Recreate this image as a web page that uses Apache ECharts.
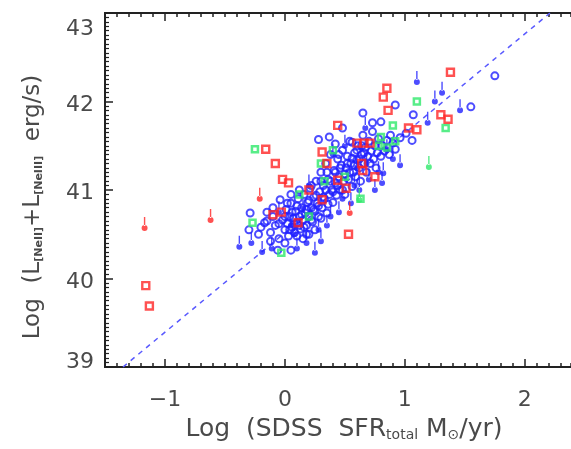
<!DOCTYPE html>
<html>
<head>
<meta charset="utf-8">
<script src="https://cdn.jsdelivr.net/npm/echarts@6/dist/echarts.min.js"></script>
<style>
html,body{margin:0;padding:0;background:#fff;overflow:hidden;}
#c{width:571px;height:449px;filter:blur(0.75px);}
</style>
</head>
<body>
<div id="c"></div>
<script>
// ---- data (x = log SFR, y = log L) ----
var xTickLabels = [-1, 0, 1, 2];
var yTickLabels = [39, 40, 41, 42, 43];
var fitX = [-1.35, 2.21];
var fitY = [39, 43];

var blueX = [-0.29,-0.2,-0.15,-0.12,-0.1,-0.08,-0.05,-0.04,-0.02,0.0,0.01,0.02,0.03,0.04,0.05,0.06,0.07,0.08,0.09,0.1,0.11,0.12,0.13,0.14,0.15,0.16,0.17,0.18,0.19,0.2,0.21,0.22,0.23,0.24,0.25,0.26,0.27,0.28,0.29,0.3,0.31,0.32,0.33,0.34,0.35,0.36,0.37,0.38,0.39,0.4,0.41,0.42,0.43,0.44,0.45,0.46,0.47,0.48,0.49,0.5,0.51,0.52,0.53,0.54,0.55,0.56,0.57,0.58,0.59,0.6,0.61,0.62,0.63,0.64,0.65,0.66,0.67,0.68,0.69,0.7,0.71,0.72,0.73,0.74,0.75,0.76,0.77,0.78,0.8,0.81,0.83,0.85,0.87,0.88,0.9,0.92,0.96,1.01,1.06,1.07,0.92,0.28,0.37,0.56,0.65,0.73,0.8,0.48,0.42,1.55,1.75,-0.17,-0.22,-0.3,-0.12,0.0,0.05,0.15,0.2,-0.06,
  -0.1,-0.05,0.0,0.02,0.04,0.06,0.08,0.1,0.12,0.14,0.16,0.18,0.2,0.22,0.24,0.26,0.28,0.3,0.32,0.34,0.36,0.38,0.4,0.42,0.44,0.46,0.48,0.5,0.52,0.54,0.56,0.58,0.6,0.62,0.64,0.66,0.1,0.18,0.25,0.05,-0.15,0.22,0.3,0.12,0.35,0.45];
var blueY = [40.74,40.58,40.65,40.52,40.7,40.6,40.45,40.89,40.66,40.55,40.78,40.62,40.48,40.7,40.85,40.58,40.68,40.52,40.76,40.63,40.9,40.7,40.56,40.8,40.66,40.95,40.74,40.6,40.86,40.7,41.02,40.8,40.64,40.92,40.76,41.1,40.85,40.7,40.98,41.2,40.8,41.05,40.9,41.3,40.74,41.12,40.95,41.4,41.0,40.86,41.22,41.08,40.94,41.35,41.15,41.0,41.28,41.45,41.1,40.95,41.25,41.38,41.12,41.55,41.3,41.04,41.2,41.42,41.15,41.34,41.5,41.25,41.1,41.4,41.62,41.3,41.48,41.2,41.38,41.55,41.3,41.44,41.66,41.35,41.5,41.25,41.42,41.58,41.38,41.5,41.44,41.56,41.4,41.62,41.53,41.46,41.59,41.64,41.56,41.85,41.96,41.57,41.6,41.54,41.87,41.76,41.77,41.7,41.52,41.94,42.29,40.63,40.5,40.55,40.42,40.4,40.32,40.45,40.5,40.32,
  40.8,40.62,40.7,40.85,40.55,40.75,40.62,40.82,40.6,40.72,40.58,40.78,40.88,40.66,40.78,40.94,40.82,40.68,40.92,41.0,40.84,41.1,40.98,41.2,41.05,41.25,41.0,41.18,41.3,41.2,41.36,41.28,41.45,41.35,41.5,41.42,40.48,40.5,40.55,40.95,40.75,41.05,41.1,41.0,41.2,41.4];

var blueLimX = [-0.38,-0.28,-0.19,-0.11,0.1,0.25,0.3,0.05,0.15,0.35,0.45,0.55,0.62,0.7,0.81,0.82,0.85,0.96,0.6,0.9,0.75,1.1,1.25,1.31,1.46,1.19,0.4,0.2,-0.05,0.5,0.67,0.08,0.18,0.28,0.38,0.48,0.58,0.68,0.78];
var blueLimY = [40.36,40.4,40.3,40.34,40.34,40.29,40.42,40.6,40.8,40.6,40.75,40.85,41.0,41.12,41.08,41.19,41.45,41.28,41.25,41.35,41.0,42.22,42.0,42.1,41.9,41.76,41.4,41.05,40.75,41.5,41.7,40.5,40.4,40.55,40.7,40.9,41.05,41.3,41.2];

var redX = [-0.16,-0.08,-0.02,0.03,0.53,1.38,0.85,0.82,0.86,1.3,1.36,1.1,1.03,0.44,0.66,0.6,0.71,0.64,0.65,0.31,0.44,0.31,-0.1,-0.03,0.11,0.51,0.35,0.2,0.75,-1.16,-1.13];
var redY = [41.46,41.3,41.12,41.08,40.5,42.33,42.15,42.05,41.9,41.85,41.8,41.68,41.7,41.73,41.53,41.53,41.53,41.3,41.22,41.43,41.11,40.89,40.72,40.75,40.63,41.02,41.3,41.0,41.15,39.92,39.69];

var redLimX = [-1.17,-0.62,-0.21,0.54];
var redLimY = [40.57,40.66,40.9,40.74];

var greenX = [-0.25,1.1,1.34,0.9,0.85,0.63,-0.03,-0.27,0.12,0.33,0.3,0.4,0.8,0.92,0.78,0.2,0.5];
var greenY = [41.46,42.0,41.7,41.73,41.48,40.9,40.29,40.63,40.95,41.1,41.3,41.45,41.6,41.55,41.5,40.7,41.15];

var greenLimX = [1.2,0.62];
var greenLimY = [41.26,40.89];

var X_MIN = -1.5, X_MAX = 2.385;

function pairs(xs, ys){ return xs.map(function(v,i){ return [v, ys[i]]; }); }

var BLUE = '#2020ff', RED = '#ff2626', GREEN = '#2ee86a';
var arrowPath = 'path://M2.3,0 L3.7,0 L3.7,9 L2.3,9 Z M0,11 A3,3 0 1,0 6,11 A3,3 0 1,0 0,11 Z';

var FONT = 'DejaVu Sans, sans-serif';
var TXT = '#4a4a4a';
var frame = {show:true, onZero:false, lineStyle:{color:'#222', width:2}};

function xAx(pos, interval, tickLen, showLabel, custom){
  var a = {
    type:'value', position:pos, min:X_MIN, max:X_MAX, interval:interval,
    axisLine: frame, splitLine:{show:false},
    axisTick:{show:true, inside:true, length:tickLen, lineStyle:{color:'#222', width:1.5}},
    axisLabel:{show:showLabel, margin:22, fontFamily:FONT, fontSize:22, color:TXT,
      formatter:function(v){ return Math.abs(v-Math.round(v))<1e-9 ? (v<0?'\u2212'+Math.abs(v):String(v)) : ''; }}
  };
  if (custom){ a.axisTick.customValues = custom; a.axisLabel.customValues = custom; }
  return a;
}

var option = {
  animation:false,
  backgroundColor:'#fff',
  grid:{left:105, top:13, right:0, bottom:82, containLabel:false, outerBoundsMode:'none'},
  xAxis:[
    Object.assign(xAx('bottom', 0.5, 8, true, xTickLabels), {
      name:'Log  (SDSS  SFR{s|total} M{s|\u2299}/yr)', nameLocation:'middle', nameGap:49,
      nameTextStyle:{fontFamily:FONT, fontSize:25, color:TXT, padding:[0,0,0,12],
        rich:{s:{fontSize:14, color:TXT, fontFamily:FONT, padding:[12,0,0,0]}}}
    }),
    xAx('bottom', 0.1, 4, false, null),
    xAx('top', 0.5, 8, false, xTickLabels),
    xAx('top', 0.1, 4, false, null)
  ],
  yAxis:[
    {type:'value', position:'left', min:39, max:43, interval:1,
     axisLine:frame, splitLine:{show:false},
     axisTick:{show:true, inside:true, length:8, lineStyle:{color:'#222', width:1.5}},
     minorTick:{show:true, splitNumber:20, length:4, lineStyle:{color:'#222', width:1.2}},
     axisLabel:{show:true, margin:11, fontFamily:FONT, fontSize:22, color:TXT,
       formatter:function(v){ return v===43 ? '{t|43}' : (v===39 ? '{b|39}' : '{m|'+v+'}'); },
       rich:{t:{fontFamily:FONT, fontSize:22, color:TXT, padding:[32,0,0,0]},
             b:{fontFamily:FONT, fontSize:22, color:TXT, padding:[0,0,10,0]},
             m:{fontFamily:FONT, fontSize:22, color:TXT, padding:[7,0,0,0]}}},
     name:'Log  (L{s|[NeII]}+L{s|[NeIII]}  erg/s)', nameLocation:'middle', nameGap:60, nameRotate:90,
     nameTextStyle:{fontFamily:FONT, fontSize:23, color:TXT, padding:[0,34,0,0],
       rich:{s:{fontSize:11, color:TXT, fontFamily:FONT, fontWeight:'bold', padding:[12,0,0,0]}}}
    },
    {type:'value', position:'right', min:39, max:43, interval:1, show:false}
  ],
  series:[
    {type:'line', data:pairs(fitX, fitY), symbol:'none', z:1,
     lineStyle:{color:'#5a5aff', width:1.5, type:[5,5]}},
    {type:'scatter', data:pairs(blueX, blueY), symbol:'circle', symbolSize:7,
     itemStyle:{color:'rgba(255,255,255,0)', borderColor:BLUE, borderWidth:2}},
    {type:'scatter', data:pairs(blueLimX, blueLimY), symbol:arrowPath, symbolSize:[6,14], symbolOffset:[0,-4],
     itemStyle:{color:BLUE}},
    {type:'scatter', data:pairs(greenX, greenY), symbol:'rect', symbolSize:6,
     itemStyle:{color:'rgba(255,255,255,0)', borderColor:GREEN, borderWidth:2.5}},
    {type:'scatter', data:pairs(greenLimX, greenLimY), symbol:arrowPath, symbolSize:[6,14], symbolOffset:[0,-4],
     itemStyle:{color:GREEN}},
    {type:'scatter', data:pairs(redX, redY), symbol:'rect', symbolSize:7,
     itemStyle:{color:'rgba(255,255,255,0)', borderColor:RED, borderWidth:2.4}},
    {type:'scatter', data:pairs(redLimX, redLimY), symbol:arrowPath, symbolSize:[6,14], symbolOffset:[0,-4],
     itemStyle:{color:RED}}
  ]
};
var chart = echarts.init(document.getElementById('c'), null, {renderer:'canvas'});
chart.setOption(option);
</script>
</body>
</html>
